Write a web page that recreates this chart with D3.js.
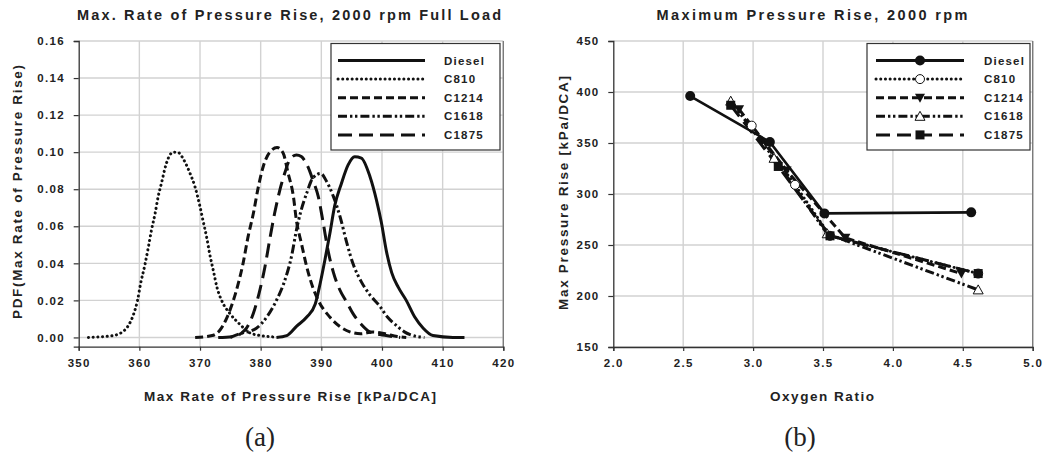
<!DOCTYPE html>
<html>
<head>
<meta charset="utf-8">
<script src="https://cdn.jsdelivr.net/npm/d3@7"></script>
<style>
    body { margin: 0; background: #fff; }
    svg text { font-family: "Liberation Sans", Arial, sans-serif; font-weight: bold; fill: #222; }
    .caption { font-family: "Liberation Serif", "Times New Roman", serif !important; font-weight: normal !important; }
</style>
</head>
<body>
<div id="chart"></div>
<script>
// ========================
// Data – panel (a): PDF curves [kPa/DCA, PDF]
// ========================
const pdfDiesel = [[382.6,0],[384.3,0.001],[385.9,0.006],[387.6,0.011],[389.0,0.018],[389.8,0.029],[390.6,0.042],[391.4,0.056],[392.2,0.071],[393.3,0.083],[394.4,0.093],[395.5,0.0975],[396.6,0.0968],[398.0,0.087],[399.1,0.074],[399.9,0.062],[400.7,0.047],[401.6,0.035],[402.7,0.027],[404.0,0.020],[405.4,0.011],[406.8,0.005],[408.4,0.001],[411.7,0],[413.6,0]];
const pdfC810 = [[351.6,0],[355.7,0.001],[356.7,0.002],[357.6,0.004],[358.3,0.007],[359.1,0.013],[359.7,0.020],[360.2,0.029],[360.9,0.039],[361.5,0.049],[362.0,0.058],[362.6,0.067],[363.1,0.076],[363.7,0.084],[364.2,0.091],[364.8,0.097],[365.6,0.100],[366.4,0.0998],[367.3,0.096],[368.3,0.089],[369.2,0.081],[369.9,0.072],[370.5,0.063],[371.1,0.054],[371.6,0.045],[372.2,0.036],[372.8,0.027],[373.7,0.019],[374.9,0.013],[376.6,0.007],[378.2,0.0025],[380.0,0.001],[382.0,0.0003]];
const pdfC1214 = [[369.2,0],[372.0,0.001],[373.3,0.004],[374.2,0.009],[375.3,0.018],[376.3,0.029],[377.1,0.040],[377.9,0.054],[378.8,0.067],[379.6,0.081],[380.4,0.092],[381.5,0.100],[382.7,0.1025],[383.7,0.0995],[384.5,0.089],[385.4,0.076],[385.9,0.063],[386.7,0.051],[387.6,0.038],[388.6,0.027],[389.5,0.020],[391.4,0.011],[393.0,0.006],[394.7,0.003],[396.5,0.002],[398.5,0.003],[400.5,0.002],[402.5,0.0005],[404.0,0]];
const pdfC1618 = [[375.0,0],[376.6,0.002],[379.3,0.005],[381.0,0.011],[382.6,0.020],[384.0,0.031],[385.1,0.044],[385.9,0.058],[386.7,0.069],[387.6,0.078],[388.6,0.086],[389.9,0.0885],[390.9,0.084],[392.0,0.076],[393.1,0.065],[394.2,0.051],[395.2,0.040],[396.6,0.030],[398.0,0.023],[399.6,0.017],[400.9,0.011],[402.3,0.0066],[403.7,0.003],[405.1,0.001],[407.0,0]];
const pdfC1875 = [[373.0,0],[375.5,0.0005],[377.4,0.004],[378.8,0.013],[379.9,0.026],[380.7,0.038],[381.5,0.053],[382.3,0.067],[383.2,0.080],[384.0,0.089],[384.8,0.096],[385.9,0.0985],[386.7,0.0976],[387.8,0.092],[388.6,0.085],[389.5,0.076],[390.3,0.062],[391.1,0.047],[392.0,0.035],[393.0,0.026],[394.2,0.019],[395.2,0.013],[396.6,0.007],[398.0,0.003],[400.7,0.001],[403.0,0]];

// ========================
// Data – panel (b): Max pressure rise vs oxygen ratio
// ========================
const mprDiesel = [[2.55,396],[3.12,351],[3.51,281],[4.56,282]];
const mprC810 = [[2.99,367],[3.30,309],[3.55,259],[4.61,222]];
const mprC1214 = [[2.90,383],[3.24,323],[3.66,257],[4.49,222]];
const mprC1618 = [[2.84,391],[3.15,335],[3.53,261],[4.61,206]];
const mprC1875 = [[2.84,387],[3.18,327],[3.55,259],[4.61,222]];

const seriesNames = ["Diesel", "C810", "C1214", "C1618", "C1875"];
const xTicksA = [350, 360, 370, 380, 390, 400, 410, 420];
const yTicksA = [0, 0.02, 0.04, 0.06, 0.08, 0.10, 0.12, 0.14, 0.16];
const xTicksB = [2.0, 2.5, 3.0, 3.5, 4.0, 4.5, 5.0];
const yTicksB = [150, 200, 250, 300, 350, 400, 450];

// line styles per series
const dashes = {
    Diesel: null,
    C810: "0.1,4.6",
    C1214: "8,4",
    C1618: "9,3,2.4,2.6,2.4,3",
    C1875: "14,7"
};
const markers = {
    Diesel: "circleFilled",
    C810: "circleOpen",
    C1214: "triDown",
    C1618: "triUpOpen",
    C1875: "square"
};

const svg = d3.select("#chart").append("svg")
    .attr("width", 1049)
    .attr("height", 456);

// text fitted to the width seen in the reference
function fitText(sel, len) {
    return sel.attr("textLength", len).attr("lengthAdjust", "spacing");
}

// ========================
// Generic panel frame
// ========================
function drawFrame(cfg) {
    const x = d3.scaleLinear().domain(cfg.xDomain).range([cfg.left, cfg.right]);
    const y = d3.scaleLinear().domain(cfg.yDomain).range([cfg.bottom, cfg.top]);
    const g = svg.append("g");

    // grid
    g.selectAll(".vgrid").data(cfg.xTicks.slice(1)).enter().append("line")
        .attr("x1", d => x(d)).attr("x2", d => x(d))
        .attr("y1", cfg.top).attr("y2", cfg.bottom)
        .attr("stroke", "#d2d2d2").attr("stroke-width", 1.4);
    g.selectAll(".hgrid").data(cfg.yTicks).enter().append("line")
        .attr("x1", cfg.left).attr("x2", cfg.right)
        .attr("y1", d => y(d)).attr("y2", d => y(d))
        .attr("stroke", "#d2d2d2").attr("stroke-width", 1.4);

    // right border
    g.append("line")
        .attr("x1", cfg.right).attr("x2", cfg.right)
        .attr("y1", cfg.top).attr("y2", cfg.bottom)
        .attr("stroke", "#777").attr("stroke-width", 1.3);

    // axes
    const xAxis = d3.axisBottom(x).tickValues(cfg.xTicks).tickSize(4).tickFormat(cfg.xFormat);
    const yAxis = d3.axisLeft(y).tickValues(cfg.yTicks).tickSize(5).tickFormat(cfg.yFormat);

    const gx = g.append("g").attr("transform", `translate(0,${cfg.bottom})`).call(xAxis);
    const gy = g.append("g").attr("transform", `translate(${cfg.left},0)`).call(yAxis);
    [gx, gy].forEach(a => {
        a.select(".domain").attr("stroke", "#333").attr("stroke-width", 1.3);
        a.selectAll(".tick line").attr("stroke", "#333").attr("stroke-width", 1.2);
        a.selectAll(".tick text")
            .style("font-size", "11.5px")
            .style("letter-spacing", "1.3px")
            .style("font-family", "'Liberation Sans', Arial, sans-serif")
            .style("font-weight", "bold")
            .attr("fill", "#222");
    });
    gx.selectAll(".tick text").attr("dy", "1.15em");
    gy.selectAll(".tick text").attr("dx", "-0.5em");

    // titles
    fitText(g.append("text")
        .attr("x", cfg.titleX).attr("y", 20)
        .attr("text-anchor", "middle")
        .style("font-size", "14.5px")
        .text(cfg.title), cfg.titleLen);

    fitText(g.append("text")
        .attr("x", cfg.xLabelX).attr("y", 401)
        .attr("text-anchor", "middle")
        .style("font-size", "13.5px")
        .text(cfg.xLabel), cfg.xLabelLen);

    fitText(g.append("text")
        .attr("transform", `translate(${cfg.yLabelX},${cfg.yLabelY}) rotate(-90)`)
        .attr("text-anchor", "middle")
        .style("font-size", "13.5px")
        .text(cfg.yLabel), cfg.yLabelLen);

    g.append("text")
        .attr("class", "caption")
        .attr("x", cfg.captionX).attr("y", 446)
        .attr("text-anchor", "middle")
        .style("font-size", "27px")
        .text(cfg.caption);

    return { x, y, g };
}

// ========================
// Markers
// ========================
function drawMarker(sel, type, cx, cy) {
    if (type === "circleFilled") {
        sel.append("circle").attr("cx", cx).attr("cy", cy).attr("r", 5).attr("fill", "#111");
    } else if (type === "circleOpen") {
        sel.append("circle").attr("cx", cx).attr("cy", cy).attr("r", 4.5)
            .attr("fill", "#fff").attr("stroke", "#111").attr("stroke-width", 1);
    } else if (type === "triDown") {
        sel.append("path").attr("d", `M${cx - 5},${cy - 4}L${cx + 5},${cy - 4}L${cx},${cy + 5}Z`).attr("fill", "#111");
    } else if (type === "triUpOpen") {
        sel.append("path").attr("d", `M${cx - 5},${cy + 4}L${cx + 5},${cy + 4}L${cx},${cy - 5}Z`)
            .attr("fill", "#fff").attr("stroke", "#111").attr("stroke-width", 1);
    } else if (type === "square") {
        sel.append("rect").attr("x", cx - 4.5).attr("y", cy - 4.5).attr("width", 9).attr("height", 9).attr("fill", "#111");
    }
}

// ========================
// Legend
// ========================
function drawLegend(box, withMarkers) {
    const lg = svg.append("g");
    lg.append("rect")
        .attr("x", box.x).attr("y", box.y).attr("width", box.w).attr("height", box.h)
        .attr("fill", "#fff").attr("stroke", "#333").attr("stroke-width", 1.2);
    seriesNames.forEach((name, i) => {
        const ry = box.y + 17 + i * 18.6;
        lg.append("line")
            .attr("x1", box.lineX1).attr("x2", box.lineX2)
            .attr("y1", ry).attr("y2", ry)
            .attr("stroke", "#111").attr("stroke-width", 3)
            .attr("stroke-linecap", name === "C810" ? "round" : "butt")
            .attr("stroke-dasharray", dashes[name]);
        if (withMarkers) drawMarker(lg, markers[name], (box.lineX1 + box.lineX2) / 2, ry);
        lg.append("text")
            .attr("x", box.textX).attr("y", ry + 4)
            .style("font-size", "11.5px").style("letter-spacing", "1.2px")
            .text(name);
    });
}

// ========================
// Panel (a)
// ========================
const pa = drawFrame({
    left: 78.7, right: 503.3, top: 41, bottom: 346.7,
    xDomain: [350, 420], yDomain: [-0.005, 0.16],
    xTicks: xTicksA, yTicks: yTicksA,
    xFormat: d3.format("d"), yFormat: d3.format(".2f"),
    title: "Max. Rate of Pressure Rise, 2000 rpm Full Load", titleX: 289, titleLen: 424,
    xLabel: "Max Rate of Pressure Rise [kPa/DCA]", xLabelX: 290, xLabelLen: 292,
    yLabel: "PDF(Max Rate of Pressure Rise)", yLabelX: 22, yLabelY: 192, yLabelLen: 254,
    caption: "(a)", captionX: 260
});

const lineA = d3.line().x(d => pa.x(d[0])).y(d => pa.y(d[1])).curve(d3.curveMonotoneX);
const pdfSeries = { Diesel: pdfDiesel, C810: pdfC810, C1214: pdfC1214, C1618: pdfC1618, C1875: pdfC1875 };
seriesNames.forEach(name => {
    pa.g.append("path")
        .datum(pdfSeries[name])
        .attr("d", lineA)
        .attr("fill", "none")
        .attr("stroke", "#111")
        .attr("stroke-width", 3)
        .attr("stroke-linecap", name === "C810" ? "round" : "butt")
        .attr("stroke-dasharray", dashes[name]);
});

drawLegend({ x: 331, y: 43.5, w: 169, h: 106.5, lineX1: 338, lineX2: 425, textX: 444 }, false);

// ========================
// Panel (b)
// ========================
const pb = drawFrame({
    left: 613.3, right: 1032.7, top: 41, bottom: 347,
    xDomain: [2, 5], yDomain: [150, 450],
    xTicks: xTicksB, yTicks: yTicksB,
    xFormat: d3.format(".1f"), yFormat: d3.format("d"),
    title: "Maximum Pressure Rise, 2000 rpm", titleX: 812, titleLen: 311,
    xLabel: "Oxygen Ratio", xLabelX: 822, xLabelLen: 104,
    yLabel: "Max Pressure Rise [kPa/DCA]", yLabelX: 568, yLabelY: 193, yLabelLen: 234,
    caption: "(b)", captionX: 800
});

const lineB = d3.line().x(d => pb.x(d[0])).y(d => pb.y(d[1]));
const mprSeries = { Diesel: mprDiesel, C810: mprC810, C1214: mprC1214, C1618: mprC1618, C1875: mprC1875 };
// C810 at the bottom, Diesel on top
const drawOrder = ["C810", "C1618", "C1214", "C1875", "Diesel"];
drawOrder.forEach(name => {
    pb.g.append("path")
        .datum(mprSeries[name])
        .attr("d", lineB)
        .attr("fill", "none")
        .attr("stroke", "#111")
        .attr("stroke-width", name === "Diesel" ? 2.6 : 3)
        .attr("stroke-linecap", name === "C810" ? "round" : "butt")
        .attr("stroke-dasharray", dashes[name]);
});
drawOrder.forEach(name => {
    mprSeries[name].forEach(d => drawMarker(pb.g, markers[name], pb.x(d[0]), pb.y(d[1])));
});

drawLegend({ x: 867, y: 43.5, w: 163, h: 106.5, lineX1: 876, lineX2: 964, textX: 984 }, true);
</script>
</body>
</html>
